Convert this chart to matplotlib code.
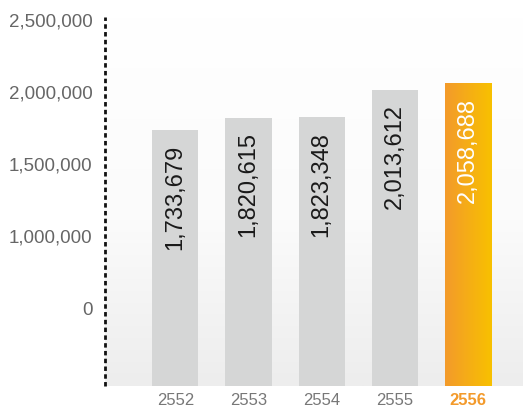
import numpy as np
import matplotlib.pyplot as plt
from matplotlib.colors import LinearSegmentedColormap

years = ['2552', '2553', '2554', '2555', '2556']
values = [1733679, 1820615, 1823348, 2013612, 2058688]
tick_values = [500000, 1000000, 1500000, 2000000, 2500000]
tick_labels = ['0', '1,000,000', '1,500,000', '2,000,000', '2,500,000']

plt.rcParams['font.family'] = ['Liberation Sans', 'DejaVu Sans']

fig = plt.figure(figsize=(5.23, 4.07), dpi=100)
ax = fig.add_axes([105 / 523, 1 - 386 / 407, 418 / 523, (386 - 17) / 407])

ymin, ymax = -41000, 2520000
xmin, xmax = -0.96, 4.75

# background: white on top fading to light grey at the bottom
bg = LinearSegmentedColormap.from_list('bg', [(0, '#ededed'), (0.45, '#fbfbfb'), (1, '#ffffff')])
grad = np.linspace(0, 1, 256).reshape(-1, 1)
ax.imshow(grad, cmap=bg, origin='lower', aspect='auto',
          extent=[xmin, xmax, ymin, ymax], zorder=0)

x = np.arange(len(years))
width = 0.63
heights = [v - ymin for v in values[:-1]]
ax.bar(x[:-1], heights, width=width, bottom=ymin, color='#d5d6d6', zorder=2)

# last bar with orange gradient
orange = LinearSegmentedColormap.from_list('or', ['#f39a2b', '#f8c100'])
hgrad = np.linspace(0, 1, 256).reshape(1, -1)
ax.imshow(hgrad, cmap=orange, aspect='auto',
          extent=[x[-1] - width / 2, x[-1] + width / 2, ymin, values[-1]], zorder=2)
ax.set_xlim(xmin, xmax)
ax.set_ylim(ymin, ymax)

for i, v in enumerate(values):
    ax.text(x[i], v - 100000, f'{v:,}', rotation=90, ha='center', va='top',
            fontsize=17, color='white' if i == len(values) - 1 else '#1a1a1a', zorder=3)

ax.set_yticks(tick_values)
ax.set_yticklabels(tick_labels, fontsize=13.5, color='#666666')
ax.set_xticks(x)
ax.set_xticklabels(years, fontsize=12, color='#777777')
lab = ax.get_xticklabels()[-1]
lab.set_color('#f39a2b')
lab.set_fontweight('bold')
ax.tick_params(axis='y', length=0, pad=9)
ax.tick_params(axis='x', length=0, pad=5)

for s in ['top', 'right', 'bottom', 'left']:
    ax.spines[s].set_visible(False)
ax.plot([0, 0], [0, 1], transform=ax.transAxes, color='#111111', lw=2,
        linestyle=(0, (1.6, 1.2)), clip_on=False, zorder=4)

fig.savefig('out.png', dpi=100)
